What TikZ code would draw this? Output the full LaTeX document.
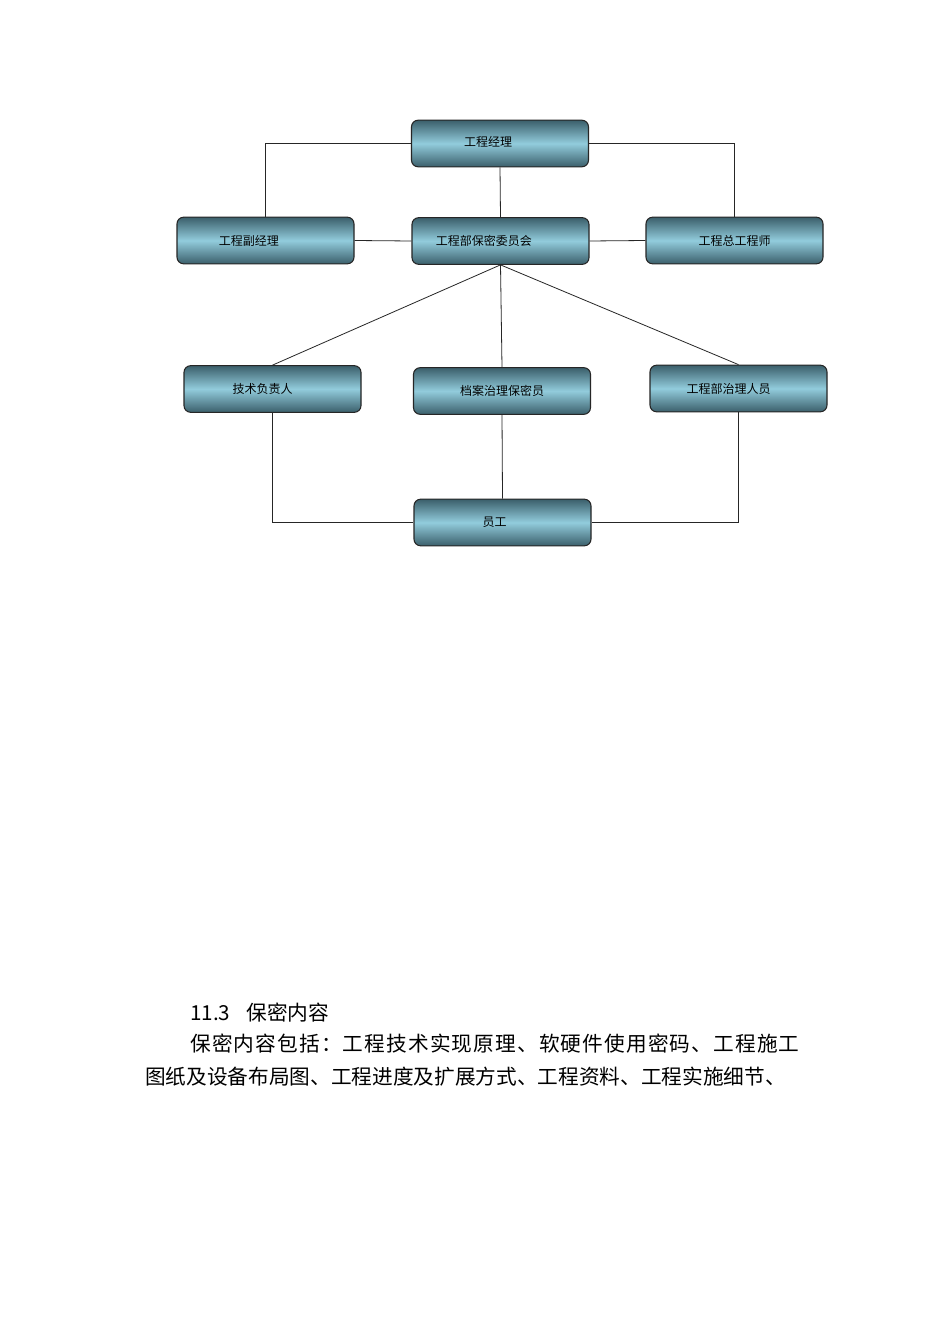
\documentclass[tikz,border=0pt]{standalone}
\usepackage{fontspec}
\newfontfamily\cjk{Noto Sans CJK SC}
\newfontfamily\cjkw[LetterSpace=5.5]{Noto Sans CJK SC}
\definecolor{bdark}{HTML}{3B5F6B}
\definecolor{blight}{HTML}{92CCDC}
\begin{document}
\begin{tikzpicture}[x=0.75pt,y=-0.75pt,
  box/.style={draw=black!85,line width=0.8pt,rounded corners=5pt,minimum width=132.75pt,minimum height=35pt,
    top color=bdark,bottom color=bdark,middle color=blight,
    font=\cjk\fontsize{9}{10}\selectfont,inner sep=0pt},
  ln/.style={draw=black!85,line width=0.6pt},
  para/.style={font=\cjk\fontsize{15.5}{18}\selectfont,anchor=west,inner sep=0pt}]
\useasboundingbox[fill=white] (0,0) rectangle (950,1344);
\node[box] (jl) at (500,143.5) {\hspace*{-18pt}工程经理\strut\raisebox{2pt}{}};
\node[box] (fjl) at (265.5,240.5) {\hspace*{-25pt}工程副经理};
\node[box] (wyh) at (500.5,241) {\hspace*{-25pt}工程部保密委员会};
\node[box] (zgc) at (734.5,240.5) {工程总工程师};
\node[box] (js) at (272.5,389) {\hspace*{-15pt}技术负责人};
\node[box] (da) at (502,391) {档案治理保密员};
\node[box] (zl) at (738.5,388.5) {\hspace*{-15pt}工程部治理人员};
\node[box] (yg) at (502.5,522.5) {\hspace*{-12pt}员工};
\draw[ln] (jl.west) -| (fjl.north);
\draw[ln] (jl.east) -| (zgc.north);
\draw[ln] (jl.south) -- (wyh.north);
\draw[ln] (fjl.east) -- (wyh.west);
\draw[ln] (wyh.east) -- (zgc.west);
\draw[ln] (wyh.south) -- (js.north);
\draw[ln] (wyh.south) -- (da.north);
\draw[ln] (wyh.south) -- (zl.north);
\draw[ln] (js.south) |- (yg.west);
\draw[ln] (da.south) -- (yg.north);
\draw[ln] (zl.south) |- (yg.east);
\node[para] (h) at (190,1013) {11.3\hspace{12pt}保密内容};
\node[para,font=\cjkw\fontsize{15.5}{18}\selectfont] (p1) at (190,1044) {保密内容包括：工程技术实现原理、软硬件使用密码、工程施工};
\node[para] (p2) at (145,1077) {图纸及设备布局图、工程进度及扩展方式、工程资料、工程实施细节、};
\end{tikzpicture}
\end{document}
